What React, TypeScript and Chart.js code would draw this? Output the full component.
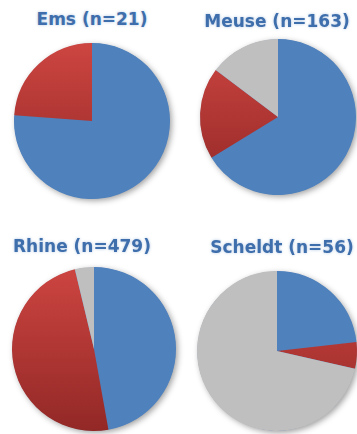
import React, { useEffect, useRef } from "react";
import { Chart, registerables } from "chart.js";

Chart.register(...registerables);

// ---- data ----
const categories = ["Class 1", "Class 2", "Class 3"];
const rivers = ["Ems", "Meuse", "Rhine", "Scheldt"];
const sampleSizes = [21, 163, 479, 56];
const emsValues = [16, 5, 0];
const meuseValues = [108, 31, 24];
const rhineValues = [226, 235, 18];
const scheldtValues = [13, 3, 40];
const seriesValues = [emsValues, meuseValues, rhineValues, scheldtValues];

// ---- layout (positions / sizes) ----
const panelLayout = [
  { cx: 92, cy: 121, r: 78, titleX: 92, titleBase: 25 },
  { cx: 278, cy: 117, r: 78, titleX: 277, titleBase: 27 },
  { cx: 94, cy: 349, r: 82, titleX: 82, titleBase: 252 },
  { cx: 277, cy: 351, r: 80, titleX: 282, titleBase: 253 },
];

const BLUE = "#4F81BD";
const GREY = "#BFBFBF";
const MARGIN = 10;
const TITLE_SIZE = 17;

const shadowPlugin = {
  id: "pieShadow",
  beforeDatasetsDraw(chart: any) {
    const meta = chart.getDatasetMeta(0);
    const arc: any = meta.data[0];
    if (!arc) return;
    const ctx = chart.ctx;
    ctx.save();
    ctx.shadowColor = "rgba(0,0,0,0.4)";
    ctx.shadowBlur = 6;
    ctx.shadowOffsetX = 2;
    ctx.shadowOffsetY = 2;
    ctx.beginPath();
    ctx.arc(arc.x, arc.y, arc.outerRadius - 0.5, 0, Math.PI * 2);
    ctx.fillStyle = BLUE;
    ctx.fill();
    ctx.restore();
  },
};

function Pie({ values, layout }: { values: number[]; layout: any }) {
  const ref = useRef<HTMLCanvasElement | null>(null);
  const size = layout.r * 2 + MARGIN * 2;
  useEffect(() => {
    if (!ref.current) return;
    const chart = new Chart(ref.current, {
      type: "pie",
      data: {
        labels: categories,
        datasets: [
          {
            data: values,
            backgroundColor: (c: any) => {
              if (c.dataIndex === 0) return BLUE;
              if (c.dataIndex === 2) return GREY;
              const area = c.chart.chartArea;
              if (!area) return "#C0504D";
              const g = c.chart.ctx.createLinearGradient(0, area.top, 0, area.bottom);
              g.addColorStop(0, "#CD4541");
              g.addColorStop(1, "#922826");
              return g;
            },
            borderWidth: 0,
            hoverBorderWidth: 0,
            hoverOffset: 0,
          },
        ],
      },
      options: {
        responsive: false,
        animation: false,
        layout: { padding: MARGIN },
        plugins: {
          legend: { display: false },
          tooltip: { enabled: false },
          title: { display: false },
        },
        events: [],
      },
      plugins: [shadowPlugin],
    });
    return () => chart.destroy();
  }, []);
  return (
    <canvas
      ref={ref}
      width={size}
      height={size}
      style={{
        position: "absolute",
        left: layout.cx - layout.r - MARGIN,
        top: layout.cy - layout.r - MARGIN,
        width: size,
        height: size,
      }}
    />
  );
}

export default function App() {
  return (
    <div
      style={{
        position: "absolute",
        left: 0,
        top: 0,
        width: 357,
        height: 434,
        background: "#ffffff",
        overflow: "hidden",
      }}
    >
      {rivers.map((name, i) => {
        const l = panelLayout[i];
        return (
          <React.Fragment key={name}>
            <Pie values={seriesValues[i]} layout={l} />
            <div
              style={{
                position: "absolute",
                left: l.titleX - 100,
                width: 200,
                top: l.titleBase - 14.5,
                textAlign: "center",
                fontFamily: "'DejaVu Sans', sans-serif",
                fontWeight: 700,
                fontSize: TITLE_SIZE,
                lineHeight: TITLE_SIZE + "px",
                color: "#3E6EAB",
                textShadow: "0 0 3px rgba(79,129,189,0.45)",
                whiteSpace: "nowrap",
              }}
            >
              {`${name} (n=${sampleSizes[i]})`}
            </div>
          </React.Fragment>
        );
      })}
    </div>
  );
}
